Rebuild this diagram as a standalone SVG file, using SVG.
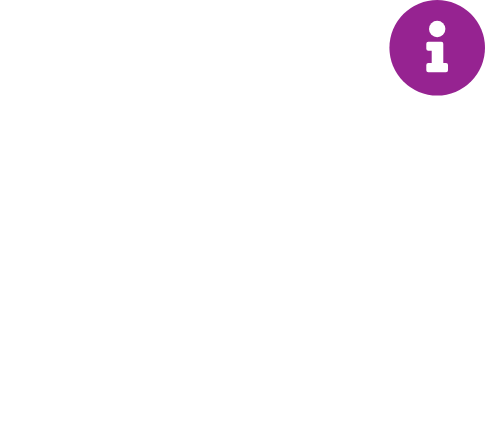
<svg xmlns="http://www.w3.org/2000/svg" width="485" height="446" viewBox="0 0 485 446">
<style>.badge{fill:#962391}.glyph{fill:#fff}</style>
<rect width="485" height="446" fill="#fff"/>
<g id="info-icon">
<circle class="badge" cx="437.2" cy="47.8" r="47.8"/>
<circle class="glyph" cx="437.2" cy="29" r="8.2"/>
<path class="glyph" d="M428.3 41.7H441.3Q443.3 41.7 443.3 43.7V63H446Q448 63 448 65V70.3Q448 72.3 446 72.3H428.3Q426.3 72.3 426.3 70.3V65Q426.3 63 428.3 63H431.7V50.7H428.3Q426.3 50.7 426.3 48.7V43.7Q426.3 41.7 428.3 41.7Z"/>
</g>
</svg>
